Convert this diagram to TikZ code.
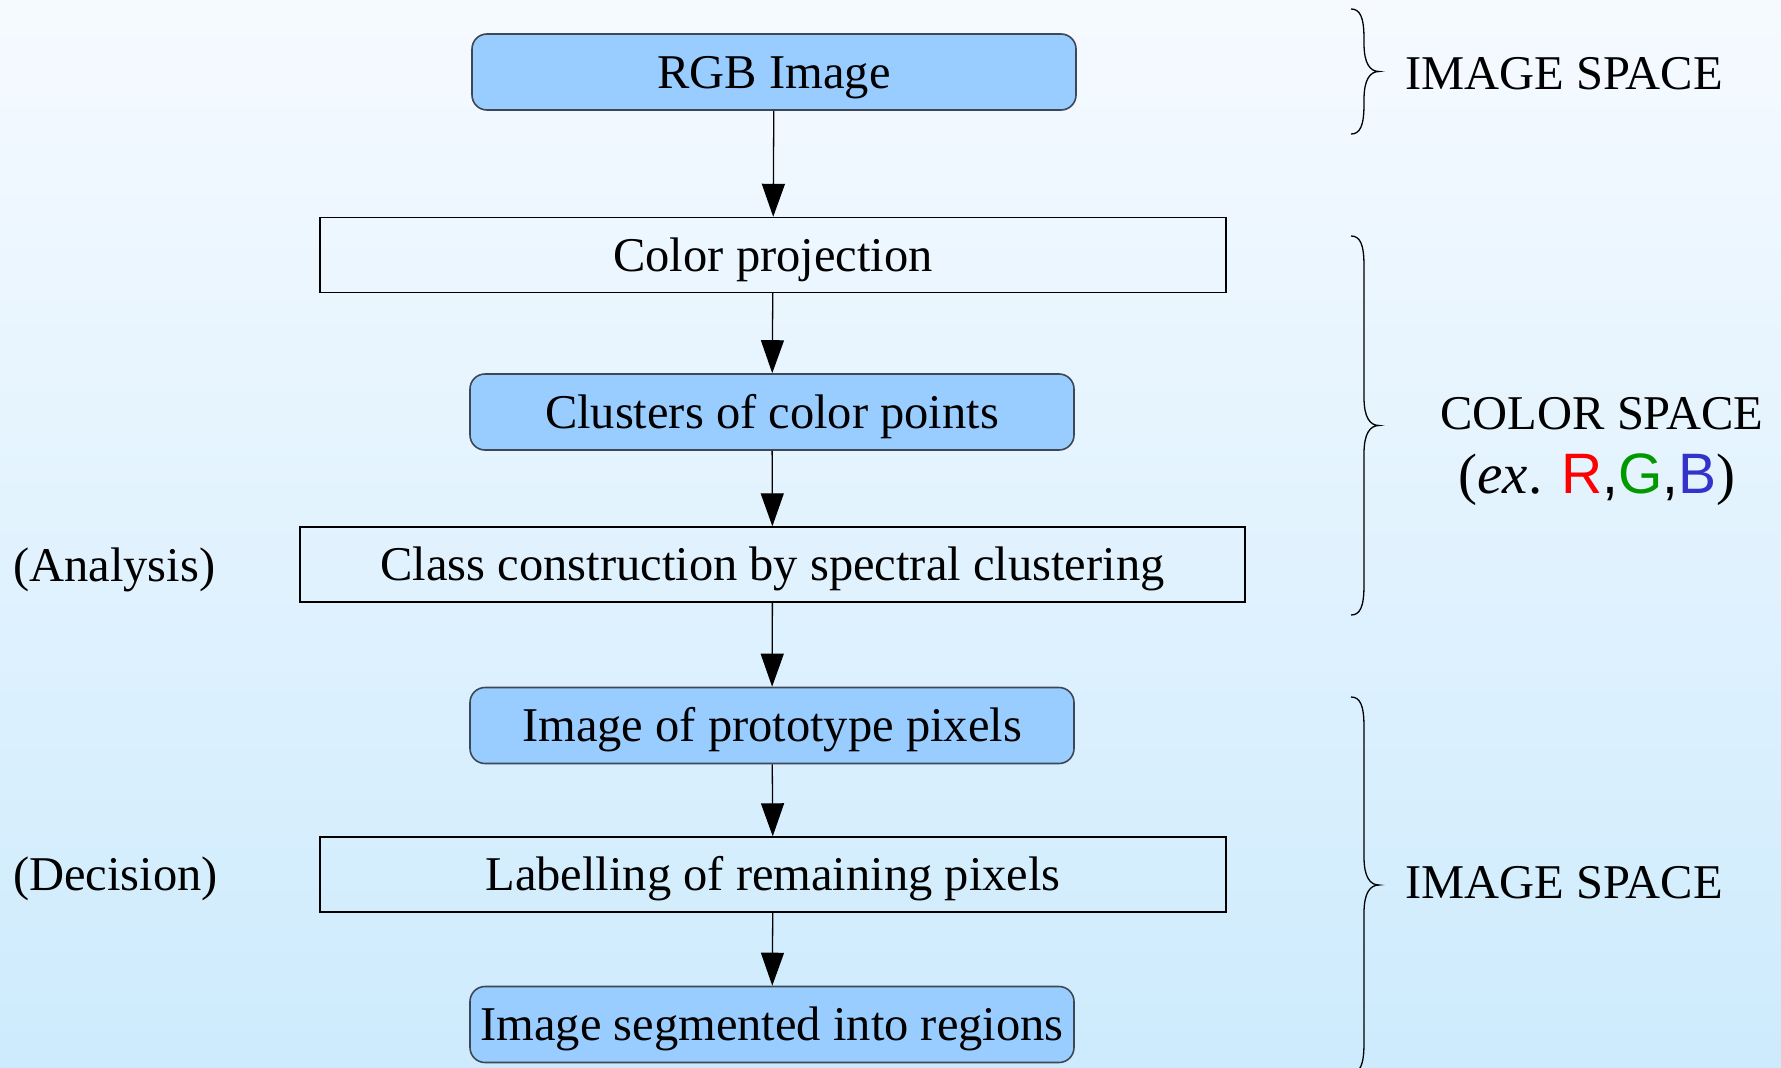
\documentclass[tikz,border=0pt]{standalone}
\usepackage{fontspec}
\setmainfont{Liberation Serif}
\newfontfamily\rgbsans{Liberation Sans}
\usetikzlibrary{arrows.meta}

\definecolor{bgtop}{RGB}{246,250,255}
\definecolor{bgbottom}{RGB}{205,235,253}
\definecolor{datafill}{RGB}{153,204,255}
\definecolor{databorder}{RGB}{62,72,84}
\definecolor{rgbred}{RGB}{255,0,0}
\definecolor{rgbgreen}{RGB}{0,153,0}
\definecolor{rgbblue}{RGB}{51,51,204}

% curly brace opening to the left, with its point at the given height
\newcommand\spacebrace[3]{%
  \draw[bracestyle] (1351,#1)
    .. controls (1360,#1) and (1364,{#1+8}) .. (1364,{#1+30})
    -- (1364,{#2-28})
    .. controls (1364,{#2-8}) and (1370,#2) .. (1379,#2)
    .. controls (1370,#2) and (1364,{#2+8}) .. (1364,{#2+28})
    -- (1364,{#3-30})
    .. controls (1364,{#3-8}) and (1360,#3) .. (1351,#3);}

\tikzset{
  txt/.style={font=\fontsize{48.5}{58}\selectfont, text=black, inner sep=0pt},
  boxtxt/.style={txt, text height=32pt, text depth=0pt},
  databox/.style={boxtxt, draw=databorder, line width=1.6pt, fill=datafill,
    rounded corners=15pt, minimum width=604pt, minimum height=76pt},
  stepbox/.style={boxtxt, draw=black, line width=1.4pt,
    minimum height=75pt},
  flow/.style={draw=black, line width=1.3pt,
    -{Triangle[length=33pt,width=23pt]}},
  bracestyle/.style={draw=black, line width=1.3pt},
}

\begin{document}
\begin{tikzpicture}[x=1pt,y=-1pt]
  % page and background
  \useasboundingbox (0,0) rectangle (1781,1068);
  \shade[top color=bgtop, bottom color=bgbottom] (0,0) rectangle (1781,1068);

  % processing chain
  \node[databox] (rgb)   at (774,72)    {RGB Image};
  \node[stepbox, minimum width=906pt] (proj)  at (773,255)   {Color projection};
  \node[databox] (clus)  at (772,412)   {Clusters of color points};
  \node[stepbox, minimum width=945pt] (class) at (772.5,564.5) {Class construction by spectral clustering};
  \node[databox] (proto) at (772,725.5) {Image of prototype pixels};
  \node[stepbox, minimum width=906pt] (label) at (773,874.5) {Labelling of remaining pixels};
  \node[databox] (seg)   at (772,1024.5) {Image segmented into regions};

  \draw[flow] (rgb)   -- (proj);
  \draw[flow] (proj)  -- (clus);
  \draw[flow] (clus)  -- (class);
  \draw[flow] (class) -- (proto);
  \draw[flow] (proto) -- (label);
  \draw[flow] (label) -- (seg);

  % phase labels
  \node[txt, anchor=base west] (analysis) at (13,581.5) {(Analysis)};
  \node[txt, anchor=base west] (decision) at (13,890.5) {(Decision)};

  % spaces
  \spacebrace{9}{71.5}{134}
  \spacebrace{236}{425.5}{615}
  \spacebrace{697}{885}{1073}

  \node[txt, anchor=base west] (imgtop) at (1405,89) {IMAGE SPACE};
  \node[txt, anchor=base] (color1) at (1602,429) {COLOR SPACE};
  \node[txt, anchor=base, font=\fontsize{57}{60}\selectfont] (color2) at (1597,493)
    {(\textit{ex}. {\rgbsans\textcolor{rgbred}{R},\textcolor{rgbgreen}{G},\textcolor{rgbblue}{B}})};
  \node[txt, anchor=base west] (imgbot) at (1405,898) {IMAGE SPACE};
\end{tikzpicture}
\end{document}
